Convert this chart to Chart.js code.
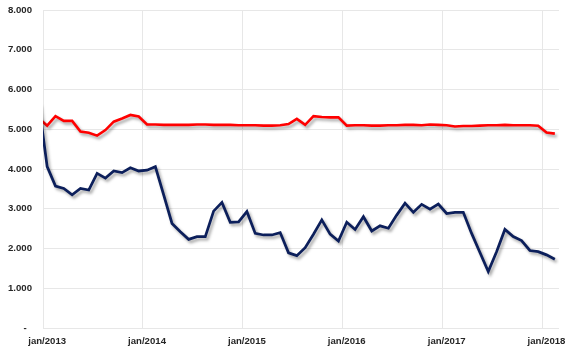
<!DOCTYPE html>
<html>
<head>
<meta charset="utf-8">
<script src="https://cdn.jsdelivr.net/npm/chart.js@4"></script>
<style>
  html, body { margin: 0; padding: 0; background: #ffffff; }
  #wrap { width: 567px; height: 353px; }
</style>
</head>
<body>
<div id="wrap"><canvas id="c" width="567" height="353"></canvas></div>
<script>
// Monthly categories (dez/2012 is only partly visible at the left edge)
const categories = [
  'dez/2012',
  'jan/2013','fev/2013','mar/2013','abr/2013','mai/2013','jun/2013','jul/2013','ago/2013','set/2013','out/2013','nov/2013','dez/2013',
  'jan/2014','fev/2014','mar/2014','abr/2014','mai/2014','jun/2014','jul/2014','ago/2014','set/2014','out/2014','nov/2014','dez/2014',
  'jan/2015','fev/2015','mar/2015','abr/2015','mai/2015','jun/2015','jul/2015','ago/2015','set/2015','out/2015','nov/2015','dez/2015',
  'jan/2016','fev/2016','mar/2016','abr/2016','mai/2016','jun/2016','jul/2016','ago/2016','set/2016','out/2016','nov/2016','dez/2016',
  'jan/2017','fev/2017','mar/2017','abr/2017','mai/2017','jun/2017','jul/2017','ago/2017','set/2017','out/2017','nov/2017','dez/2017',
  'jan/2018','fev/2018'
];

const redSeries = [
  5280,
  5090,5330,5210,5210,4940,4910,4840,4980,5190,5270,5360,5320,
  5120,5120,5110,5110,5110,5110,5120,5120,5110,5110,5110,5100,
  5100,5100,5090,5090,5100,5130,5260,5110,5330,5310,5300,5300,
  5090,5100,5100,5090,5090,5100,5100,5110,5110,5100,5120,5110,
  5100,5070,5080,5080,5090,5100,5100,5110,5100,5100,5100,5090,
  4920,4890
];

const navySeries = [
  5640,
  4060,3570,3510,3350,3510,3470,3890,3770,3950,3910,4030,3950,
  3970,4060,3350,2630,2420,2230,2300,2300,2940,3160,2660,2670,
  2930,2380,2340,2340,2400,1890,1820,2020,2360,2720,2360,2190,
  2660,2480,2800,2440,2570,2510,2840,3140,2910,3110,2990,3120,
  2880,2910,2910,2380,1900,1420,1920,2480,2300,2200,1950,1920,
  1840,1730
];

const yTickLabels = ['-  ','1.000','2.000','3.000','4.000','5.000','6.000','7.000','8.000'];

const FONT = { family: '"Liberation Sans", Arial, sans-serif', size: 9.6, weight: 'bold' };
const GRID = '#e7e7e7';

const shadowPlugin = {
  id: 'lineShadow',
  beforeDatasetDraw(chart) {
    const ctx = chart.ctx;
    ctx.save();
    ctx.shadowColor = 'rgba(0,0,0,0.35)';
    ctx.shadowBlur = 3;
    ctx.shadowOffsetX = 2;
    ctx.shadowOffsetY = 2.5;
  },
  afterDatasetDraw(chart) {
    chart.ctx.restore();
  }
};

new Chart(document.getElementById('c'), {
  type: 'line',
  data: {
    labels: categories,
    datasets: [
      {
        data: navySeries,
        borderColor: '#0c1f5b',
        borderWidth: 2.75,
        pointRadius: 0,
        tension: 0,
        clip: 0
      },
      {
        data: redSeries,
        borderColor: '#ff0000',
        borderWidth: 2.6,
        pointRadius: 0,
        tension: 0,
        clip: 0
      }
    ]
  },
  options: {
    responsive: false,
    animation: false,
    devicePixelRatio: 1,
    layout: { padding: { left: 0, right: 8, top: 10, bottom: 0 } },
    plugins: { legend: { display: false }, tooltip: { enabled: false }, title: { display: false } },
    scales: {
      x: {
        type: 'category',
        min: 'jan/2013',
        offset: true,
        border: { display: false },
        grid: {
          offset: true,
          drawTicks: false,
          color: (c) => (c.tick && categories[c.tick.value].startsWith('jan')) ? GRID : 'rgba(0,0,0,0)',
          lineWidth: 1
        },
        ticks: {
          autoSkip: false,
          maxRotation: 0,
          minRotation: 0,
          padding: 8,
          color: '#262626',
          font: FONT,
          callback: (v) => categories[v].startsWith('jan') ? categories[v] : ''
        },
        afterFit: (scale) => { scale.height = 25; }
      },
      y: {
        min: 0,
        max: 8000,
        border: { display: false },
        grid: { drawTicks: false, color: GRID, lineWidth: 1 },
        ticks: {
          stepSize: 1000,
          padding: 11,
          color: '#262626',
          font: FONT,
          callback: (v) => yTickLabels[Math.round(v / 1000)]
        },
        afterFit: (scale) => {
          scale.width = 43;
          scale.paddingTop = 0;
          scale.paddingBottom = 0;
        }
      }
    }
  },
  plugins: [shadowPlugin]
});
</script>
</body>
</html>
